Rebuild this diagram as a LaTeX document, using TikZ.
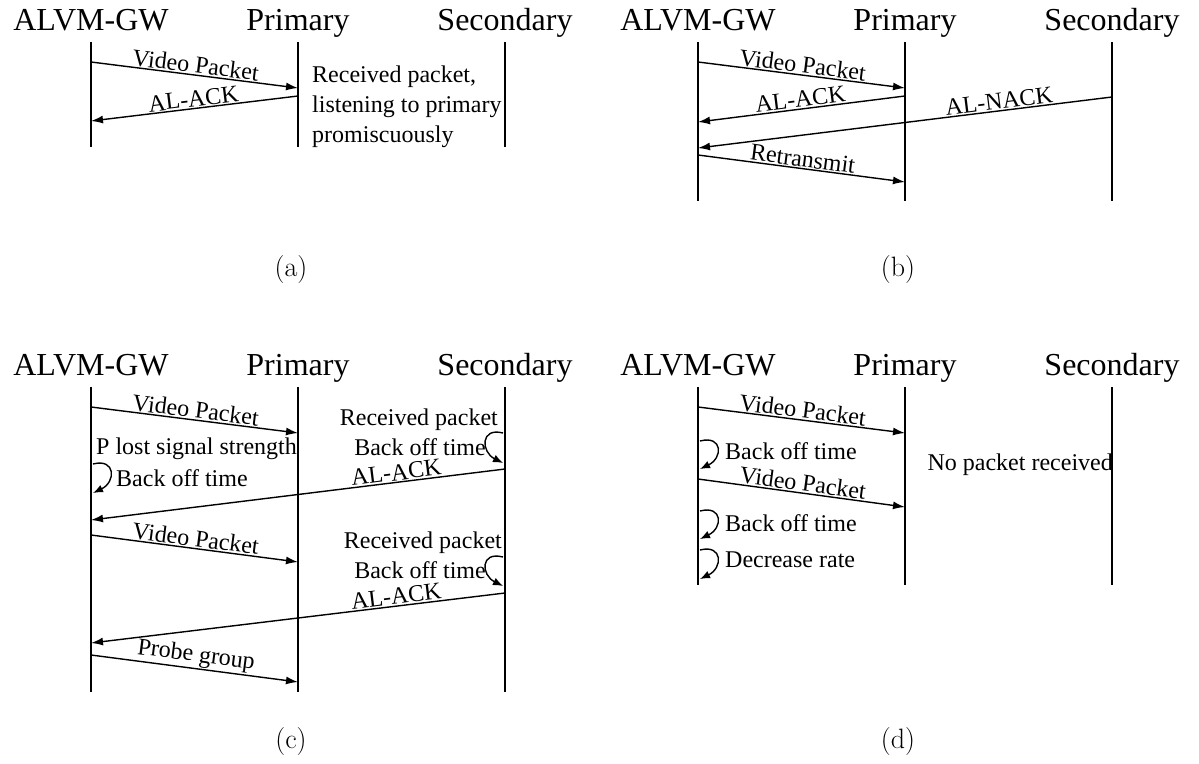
\documentclass[tikz,border=0pt]{standalone}
\usepackage{fontspec}
\setmainfont{Liberation Serif}
\newfontfamily\capfont{Latin Modern Roman}
\usetikzlibrary{arrows.meta}
\begin{document}
\begin{tikzpicture}[x=1pt,y=-1pt,
  life/.style={line width=1.4pt},
  msg/.style={line width=1.4pt,-{Latex[length=12pt,width=8pt]}},
  selfloop/.style={line width=1.4pt,-{Latex[length=10pt,width=8pt]}},
  hdr/.style={font=\fontsize{32}{38}\selectfont,anchor=base,inner sep=0pt},
  lbl/.style={font=\fontsize{24}{29}\selectfont,sloped,above,inner sep=1pt},
  note/.style={font=\fontsize{24}{30}\selectfont,inner sep=0pt},
  subcap/.style={font=\capfont\fontsize{28}{32}\selectfont,inner sep=0pt}]
\path[use as bounding box] (0,0) rectangle (1199,763);

% ---------------- (a) ----------------
\node[hdr] (aGh) at (91,30) {ALVM-GW};
\node[hdr] (aPh) at (298,30) {Primary};
\node[hdr] (aSh) at (505,30) {Secondary};
\coordinate (aGt) at (91,42);  \coordinate (aGb) at (91,147);
\coordinate (aPt) at (298,42); \coordinate (aPb) at (298,147);
\coordinate (aSt) at (505,42); \coordinate (aSb) at (505,147);
\draw[life] (aGt) -- (aGb);
\draw[life] (aPt) -- (aPb);
\draw[life] (aSt) -- (aSb);
\coordinate (a1s) at (91,62);  \coordinate (a1e) at (298,88);
\coordinate (a2s) at (298,96); \coordinate (a2e) at (91,121);
\draw[msg] (a1s) -- node[lbl] {Video Packet} (a1e);
\draw[msg] (a2s) -- node[lbl] {AL-ACK} (a2e);
\node[note,anchor=west,align=left] (aN) at (312,107)
  {Received packet,\\listening to primary\\promiscuously};
\node[subcap] (aCap) at (291,270) {(a)};

% ---------------- (b) ----------------
\node[hdr] (bGh) at (698,30) {ALVM-GW};
\node[hdr] (bPh) at (905,30) {Primary};
\node[hdr] (bSh) at (1112,30) {Secondary};
\coordinate (bGt) at (698,42);  \coordinate (bGb) at (698,201);
\coordinate (bPt) at (905,42);  \coordinate (bPb) at (905,201);
\coordinate (bSt) at (1112,42); \coordinate (bSb) at (1112,201);
\draw[life] (bGt) -- (bGb);
\draw[life] (bPt) -- (bPb);
\draw[life] (bSt) -- (bSb);
\coordinate (b1s) at (698,62);  \coordinate (b1e) at (905,88);
\coordinate (b2s) at (905,96);  \coordinate (b2e) at (698,122);
\coordinate (b3s) at (1112,97); \coordinate (b3e) at (698,148);
\coordinate (b4s) at (698,155); \coordinate (b4e) at (905,182);
\draw[msg] (b1s) -- node[lbl] {Video Packet} (b1e);
\draw[msg] (b2s) -- node[lbl] {AL-ACK} (b2e);
\draw[msg] (b3s) -- node[lbl,pos=0.27] {AL-NACK} (b3e);
\draw[msg] (b4s) -- node[lbl] {Retransmit} (b4e);
\node[subcap] (bCap) at (898,270) {(b)};

% ---------------- (c) ----------------
\node[hdr] (cGh) at (91,375) {ALVM-GW};
\node[hdr] (cPh) at (298,375) {Primary};
\node[hdr] (cSh) at (505,375) {Secondary};
\coordinate (cGt) at (91,387);  \coordinate (cGb) at (91,692);
\coordinate (cPt) at (298,387); \coordinate (cPb) at (298,692);
\coordinate (cSt) at (505,387); \coordinate (cSb) at (505,692);
\draw[life] (cGt) -- (cGb);
\draw[life] (cPt) -- (cPb);
\draw[life] (cSt) -- (cSb);
\coordinate (c1s) at (91,407);  \coordinate (c1e) at (298,433);
\draw[msg] (c1s) -- node[lbl] {Video Packet} (c1e);
\node[note,anchor=west] (cLost) at (96,449) {P lost signal strength};
\coordinate (cL1s) at (93,464); \coordinate (cL1e) at (93,493);
\draw[selfloop] (cL1s) .. controls (116,458) and (116,482) .. (cL1e);
\node[note,anchor=west] (cB1) at (116,478) {Back off time};
\node[note,anchor=east] (cR1) at (498,420) {Received packet};
\node[note,anchor=east] (cB2) at (486,447) {Back off time};
\coordinate (cL2s) at (503,433); \coordinate (cL2e) at (503,463);
\draw[selfloop] (cL2s) .. controls (480,427) and (481,452) .. (cL2e);
\coordinate (c2s) at (505,469); \coordinate (c2e) at (91,520);
\draw[msg] (c2s) -- node[lbl,pos=0.26] {AL-ACK} (c2e);
\coordinate (c3s) at (91,535);  \coordinate (c3e) at (298,562);
\draw[msg] (c3s) -- node[lbl] {Video Packet} (c3e);
\node[note,anchor=east] (cR2) at (502,543) {Received packet};
\node[note,anchor=east] (cB3) at (486,570) {Back off time};
\coordinate (cL3s) at (503,557); \coordinate (cL3e) at (503,586);
\draw[selfloop] (cL3s) .. controls (480,551) and (481,575) .. (cL3e);
\coordinate (c4s) at (505,593); \coordinate (c4e) at (91,643);
\draw[msg] (c4s) -- node[lbl,pos=0.26] {AL-ACK} (c4e);
\coordinate (c5s) at (91,655);  \coordinate (c5e) at (298,682);
\draw[msg] (c5s) -- node[lbl] {Probe group} (c5e);
\node[subcap] (cCap) at (291,742) {(c)};

% ---------------- (d) ----------------
\node[hdr] (dGh) at (698,375) {ALVM-GW};
\node[hdr] (dPh) at (905,375) {Primary};
\node[hdr] (dSh) at (1112,375) {Secondary};
\coordinate (dGt) at (698,387);  \coordinate (dGb) at (698,585);
\coordinate (dPt) at (905,387);  \coordinate (dPb) at (905,585);
\coordinate (dSt) at (1112,387); \coordinate (dSb) at (1112,585);
\draw[life] (dGt) -- (dGb);
\draw[life] (dPt) -- (dPb);
\draw[life] (dSt) -- (dSb);
\coordinate (d1s) at (698,407); \coordinate (d1e) at (905,433);
\draw[msg] (d1s) -- node[lbl] {Video Packet} (d1e);
\coordinate (dL1s) at (700,441); \coordinate (dL1e) at (700,469);
\draw[selfloop] (dL1s) .. controls (723,435) and (723,458) .. (dL1e);
\node[note,anchor=west] (dB1) at (725,451) {Back off time};
\coordinate (d2s) at (698,479); \coordinate (d2e) at (905,507);
\draw[msg] (d2s) -- node[lbl] {Video Packet} (d2e);
\coordinate (dL2s) at (700,511); \coordinate (dL2e) at (700,539);
\draw[selfloop] (dL2s) .. controls (723,505) and (723,528) .. (dL2e);
\node[note,anchor=west] (dB2) at (725,523) {Back off time};
\coordinate (dL3s) at (700,550); \coordinate (dL3e) at (700,579);
\draw[selfloop] (dL3s) .. controls (723,544) and (723,568) .. (dL3e);
\node[note,anchor=west] (dDec) at (725,560) {Decrease rate};
\node[note,anchor=east] (dNo) at (1113,465) {No packet received};
\node[subcap] (dCap) at (898,742) {(d)};
\end{tikzpicture}
\end{document}
